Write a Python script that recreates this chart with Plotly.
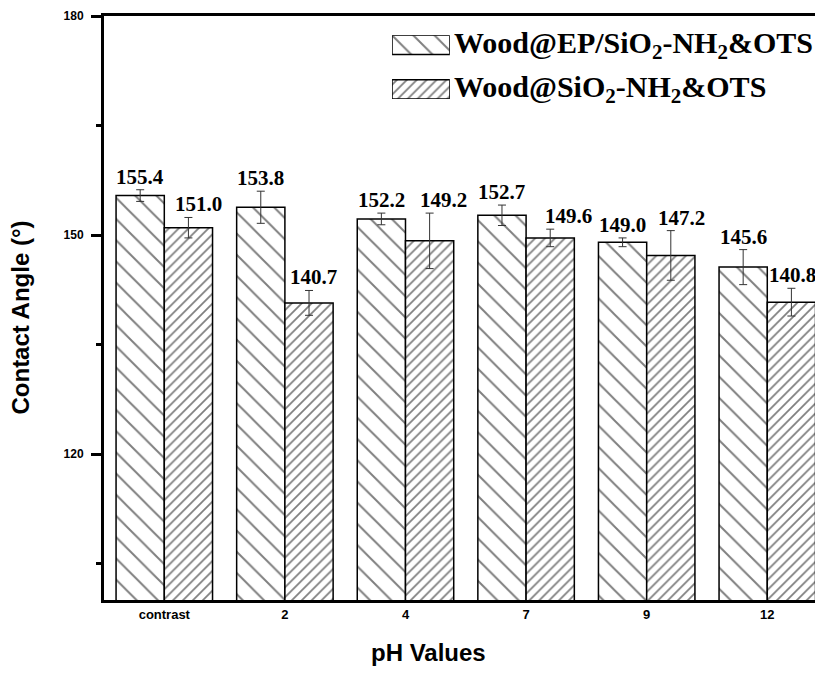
import plotly.graph_objects as go

categories = ["contrast", "2", "4", "7", "9", "12"]
ep_values = [155.4, 153.8, 152.2, 152.7, 149.0, 145.6]
ep_errors = [0.8, 2.2, 0.8, 1.4, 0.6, 2.4]
si_values = [151.0, 140.7, 149.2, 149.6, 147.2, 140.8]
si_errors = [1.4, 1.7, 3.8, 1.2, 3.4, 1.9]
series_names = ["Wood@EP/SiO<sub>2</sub>-NH<sub>2</sub>&OTS",
                "Wood@SiO<sub>2</sub>-NH<sub>2</sub>&OTS"]
x_title = "pH Values"
y_title = "Contact Angle (°)"

# horizontal nudges (px) of the value labels of the second series
si_label_nudge = [10, 4, 14, 18, 11, 1]

SANS = "Arial, Liberation Sans, sans-serif"
SERIF = "Times New Roman, Liberation Serif, serif"

ep_marker = dict(color="white", line=dict(color="black", width=1.5),
                 pattern=dict(shape="\\", size=15, solidity=0.13,
                              fgcolor="black", bgcolor="white"))
si_marker = dict(color="white", line=dict(color="black", width=1.5),
                 pattern=dict(shape="/", size=7, solidity=0.25,
                              fgcolor="black", bgcolor="white"))
err_style = dict(type="data", color="#333333", thickness=1, width=4, visible=True)

fig = go.Figure()
fig.add_trace(go.Bar(x=categories, y=ep_values, name=series_names[0],
                     marker=ep_marker, showlegend=False,
                     error_y=dict(array=ep_errors, **err_style)))
fig.add_trace(go.Bar(x=categories, y=si_values, name=series_names[1],
                     marker=si_marker, showlegend=False,
                     error_y=dict(array=si_errors, **err_style)))

# legend keys drawn on a small overlay axis
fig.add_trace(go.Bar(y=[1], x=[1], orientation="h", width=0.43, marker=ep_marker,
                     xaxis="x2", yaxis="y2", showlegend=False, hoverinfo="skip"))
fig.add_trace(go.Bar(y=[0], x=[1], orientation="h", width=0.43, marker=si_marker,
                     xaxis="x2", yaxis="y2", showlegend=False, hoverinfo="skip"))

annotations = []
label_font = dict(family=SERIF, size=21, color="black", weight="bold")
for i, (v, e) in enumerate(zip(ep_values, ep_errors)):
    annotations.append(dict(x=i - 0.2, y=v + e, xref="x", yref="y", text=f"{v:.1f}",
                            showarrow=False, yanchor="bottom", yshift=-1, font=label_font))
for i, (v, e) in enumerate(zip(si_values, si_errors)):
    annotations.append(dict(x=i + 0.2, y=v + e, xref="x", yref="y", text=f"{v:.1f}",
                            showarrow=False, yanchor="bottom", yshift=-1,
                            xshift=si_label_nudge[i], font=label_font))
leg_font = dict(family=SERIF, size=30, color="black", weight="bold")
annotations.append(dict(x=0.484, y=0.951, xref="paper", yref="paper", text=series_names[0],
                        showarrow=False, xanchor="left", yanchor="middle", font=leg_font))
annotations.append(dict(x=0.484, y=0.875, xref="paper", yref="paper", text=series_names[1],
                        showarrow=False, xanchor="left", yanchor="middle", font=leg_font))
title_font = dict(family=SANS, size=24, color="black", weight="bold")
annotations.append(dict(x=0.452, y=-0.09, xref="paper", yref="paper", text=x_title,
                        showarrow=False, xanchor="center", yanchor="middle", font=title_font))
annotations.append(dict(x=-0.116, y=0.483, xref="paper", yref="paper", text=y_title,
                        textangle=-90, showarrow=False, xanchor="center", yanchor="middle",
                        font=title_font))

fig.update_layout(
    width=823, height=673,
    margin=dict(l=96, r=8, t=8, b=81, autoexpand=False),
    plot_bgcolor="white", paper_bgcolor="white",
    barmode="group", bargap=0.2, bargroupgap=0,
    showlegend=False,
    annotations=annotations,
    xaxis=dict(type="category", range=[-0.5, 5.462], showline=True, linewidth=3,
               linecolor="black", mirror=True, ticks="", showgrid=False,
               automargin=False,
               tickfont=dict(family=SANS, size=13, color="black", weight="bold")),
    yaxis=dict(range=[100, 180], tick0=0, dtick=30, showline=True, linewidth=3,
               linecolor="black", ticks="outside", ticklen=10, tickwidth=2.5,
               tickcolor="black", showgrid=False, zeroline=False, automargin=False,
               ticklabelstandoff=5,
               minor=dict(tick0=0, dtick=15, ticks="outside", ticklen=5,
                          tickwidth=2.5, tickcolor="black", showgrid=False),
               tickfont=dict(family=SANS, size=12, color="black", weight="bold")),
    xaxis2=dict(domain=[0.4006, 0.481], range=[0, 1], visible=False, fixedrange=True,
                anchor="y2"),
    yaxis2=dict(domain=[0.858, 0.967], range=[-0.215, 1.215], visible=False,
                fixedrange=True, anchor="x2"),
)

fig.write_html("out.html")
